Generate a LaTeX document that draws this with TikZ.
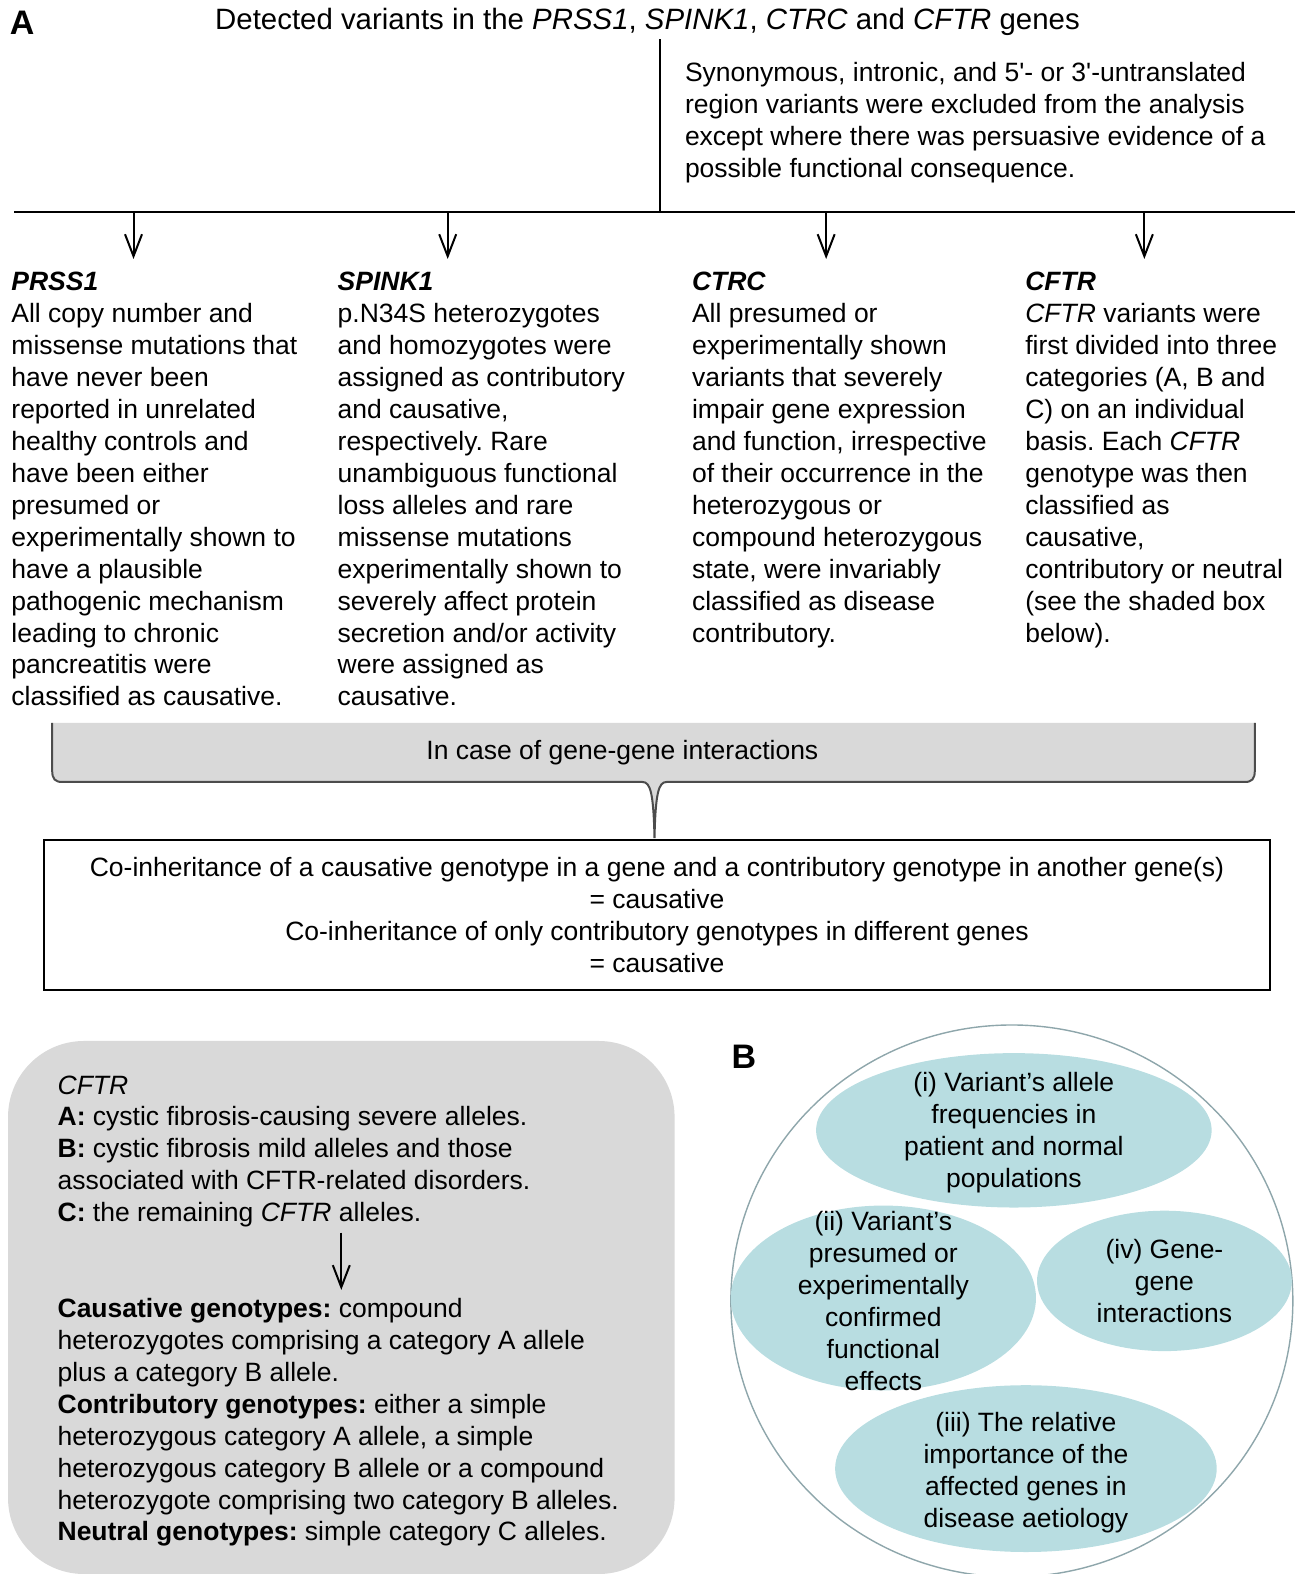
\documentclass[tikz,border=0pt]{standalone}
\usepackage{fontspec}
\setmainfont{Liberation Sans}
\usetikzlibrary{arrows.meta,shapes.geometric}
\definecolor{shadegray}{HTML}{D9D9D9}
\definecolor{bubblecol}{HTML}{B8DDE1}
\definecolor{rimcol}{HTML}{8EA6AB}
\newcommand{\bodyfont}{\fontsize{13.25}{15.96}\selectfont}
\newcommand{\gene}[1]{\textbf{\textit{#1}}}
\frenchspacing

\begin{document}
\begin{tikzpicture}[x=0.50194pt,y=-0.50194pt, txt/.style={font=\bodyfont,inner sep=0pt,align=left,anchor=north west}, ctxt/.style={font=\bodyfont,inner sep=0pt,align=center}, down/.style={-{Straight Barb[length=11pt,width=8.5pt,line width=1pt]},line width=1pt}, panel/.style={font=\fontsize{17}{20}\selectfont\bfseries,inner sep=0pt}]
\useasboundingbox (0,0) rectangle (1290,1568);
\node[panel] (pa) at (22,23) {A};
\node[ctxt,font=\fontsize{14.7}{17}\selectfont,anchor=north] (title) at (645,8) {Detected variants in the \textit{PRSS1}, \textit{SPINK1}, \textit{CTRC} and \textit{CFTR} genes};
\coordinate (split) at (657,211);
\coordinate (rl) at (14,211);
\coordinate (rr) at (1290,211);
\node[txt] (excl) at (682,62) {Synonymous, intronic, and 5\textquotesingle- or 3\textquotesingle-untranslated\\region variants were excluded from the analysis\\except where there was persuasive evidence of a\\possible functional consequence.};
\draw[line width=1pt] ([yshift=-1.5pt]title.south -| split) -- (split);
\draw[line width=1.2pt] (rl) -- (rr);
\foreach \x/\n in {133/1,446/2,823/3,1140/4}{
  \coordinate (s\n) at (\x,211);
  \coordinate (t\n) at (\x,258);
  \draw[down] (s\n) -- (t\n);
}
\node[txt] (prss) at (11,271) {\gene{PRSS1}\\All copy number and\\missense mutations that\\have never been\\reported in unrelated\\healthy controls and\\have been either\\presumed or\\experimentally shown to\\have a plausible\\pathogenic mechanism\\leading to chronic\\pancreatitis were\\classified as causative.};
\node[txt] (spink) at (336,271) {\gene{SPINK1}\\p.N34S heterozygotes\\and homozygotes were\\assigned as contributory\\and causative,\\respectively. Rare\\unambiguous functional\\loss alleles and rare\\missense mutations\\experimentally shown to\\severely affect protein\\secretion and/or activity\\were assigned as\\causative.};
\node[txt] (ctrc) at (689,271) {\gene{CTRC}\\All presumed or\\experimentally shown\\variants that severely\\impair gene expression\\and function, irrespective\\of their occurrence in the\\heterozygous or\\compound heterozygous\\state, were invariably\\classified as disease\\contributory.};
\node[txt] (cftr) at (1021,271) {\gene{CFTR}\\\textit{CFTR} variants were\\first divided into three\\categories (A, B and\\C) on an individual\\basis. Each \textit{CFTR}\\genotype was then\\classified as\\causative,\\contributory or neutral\\(see the shaded box\\below).};
\fill[shadegray] (52,720) -- (52,768) .. controls (52,776) and (55,779) .. (62,779) -- (640,779) .. controls (648,779) and (651,790) .. (652,835) .. controls (653,790) and (656,779) .. (664,779) -- (1240,779) .. controls (1247,779) and (1250,776) .. (1250,768) -- (1250,720) -- cycle;
\draw[line width=1pt,black!70] (52,720) -- (52,768) .. controls (52,776) and (55,779) .. (62,779) -- (640,779) .. controls (648,779) and (651,790) .. (652,835) .. controls (653,790) and (656,779) .. (664,779) -- (1240,779) .. controls (1247,779) and (1250,776) .. (1250,768) -- (1250,720);
\node[ctxt] (gg) at (620,750) {In case of gene-gene interactions};
\node[ctxt,draw,line width=0.8pt,minimum width=612.9pt,minimum height=74.8pt] (rule) at (654.5,911.5) {Co-inheritance of a causative genotype in a gene and a contributory genotype in another gene(s)\\= causative\\Co-inheritance of only contributory genotypes in different genes\\= causative};
\fill[shadegray,rounded corners=38pt] (8,1037) rectangle (672,1568);
\node[txt] (cats) at (57,1071) {\textit{CFTR}\\\textbf{A:} cystic fibrosis-causing severe alleles.\\\textbf{B:} cystic fibrosis mild alleles and those\\associated with CFTR-related disorders.\\\textbf{C:} the remaining \textit{CFTR} alleles.};
\coordinate (c0) at (340,1228);
\coordinate (c1) at (340,1285);
\draw[down] (c0) -- (c1);
\node[txt] (geno) at (57,1293) {\textbf{Causative genotypes:} compound\\heterozygotes comprising a category A allele\\plus a category B allele.\\\textbf{Contributory genotypes:} either a simple\\heterozygous category A allele, a simple\\heterozygous category B allele or a compound\\heterozygote comprising two category B alleles.\\\textbf{Neutral genotypes:} simple category C alleles.};
\node[panel] (pb) at (741,1053) {B};
\draw[rimcol,line width=0.7pt] (1008,1296) ellipse [x radius=140.5pt,y radius=138pt];
\fill[bubblecol] (1010,1126) ellipse [x radius=98.9pt,y radius=38.6pt];
\fill[bubblecol] (880,1293) ellipse [x radius=76.3pt,y radius=46.2pt];
\fill[bubblecol] (1160,1276) ellipse [x radius=63.7pt,y radius=35.1pt];
\fill[bubblecol] (1022,1463) ellipse [x radius=95.4pt,y radius=41.7pt];
\node[ctxt] (f1) at (1010,1128) {(i) Variant’s allele\\frequencies in\\patient and normal\\populations};
\node[ctxt] (f2) at (880,1296) {(ii) Variant’s\\presumed or\\experimentally\\confirmed\\functional\\effects};
\node[ctxt] (f4) at (1160,1276) {(iv) Gene-\\gene\\interactions};
\node[ctxt] (f3) at (1022,1467) {(iii) The relative\\importance of the\\affected genes in\\disease aetiology};
\end{tikzpicture}
\end{document}
